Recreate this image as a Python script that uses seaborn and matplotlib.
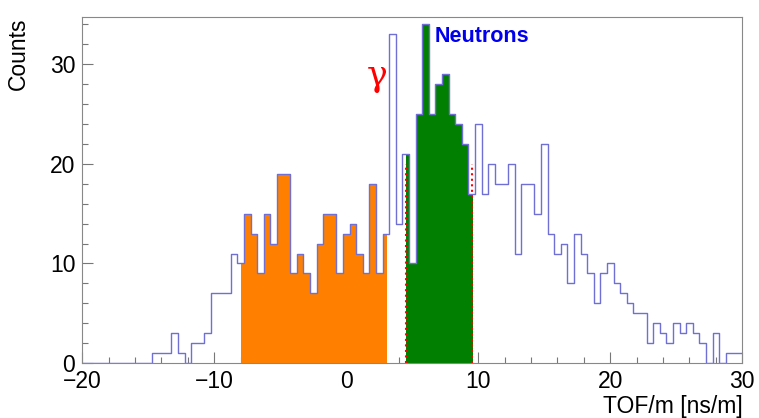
import numpy as np
import pandas as pd
import seaborn as sns
import matplotlib.pyplot as plt
from matplotlib.patches import Rectangle
from matplotlib.ticker import MultipleLocator

# TOF/m histogram, 0.5 ns/m bins centred from -20 to 30
tof = np.arange(-20, 30.01, 0.5)
counts_low = [0] * 11 + [1, 1, 1, 3, 1, 0, 2, 2, 3, 7, 7, 7]
counts_gamma = [11, 10, 15, 13, 9, 15, 12, 19, 19, 9, 11, 9, 7, 12, 15, 15, 9, 13, 14, 11, 9, 18, 9, 13]
counts_neutron = [33, 14, 21, 10, 25, 34, 25, 28, 29, 25, 24, 22, 17]
counts_tail = [24, 17, 20, 18, 18, 20, 11, 18, 18, 15, 22, 13, 11, 12, 8, 13, 11, 9, 6, 9, 10, 8, 7, 6,
               5, 5, 2, 4, 3, 2, 4, 3, 4, 3, 2, 0, 3, 0, 1, 1, 1]
counts = counts_low + counts_gamma + counts_neutron + counts_tail

# selection windows (ns/m) and the height of the cut markers
gamma_window = (-8, 3)
neutron_window = (4.5, 9.5)
cut_lines = [4.5, 9.5]
cut_height = 20

df = pd.DataFrame({'tof': tof, 'counts': counts})
hist_kw = dict(data=df, x='tof', weights='counts', binwidth=0.5,
               binrange=(-20.25, 30.25), element='step')

sns.set_style('white')
plt.rcParams['font.family'] = ['Liberation Sans', 'DejaVu Sans']
plt.rcParams['text.color'] = 'black'
plt.rcParams['axes.labelcolor'] = 'black'

fig = plt.figure(figsize=(7.59, 4.18), dpi=100)
ax = fig.add_axes([0.1084, 0.1309, 0.8696, 0.8284])

# filled windows (histogram clipped to the window)
for (lo, hi), col in [(gamma_window, '#ff8000'), (neutron_window, '#007f00')]:
    sns.histplot(fill=True, color=col, alpha=1, linewidth=0, ax=ax, **hist_kw)
    poly = ax.collections[-1]
    poly.set_clip_path(Rectangle((lo, 0), hi - lo, 100, transform=ax.transData))

ax.vlines(cut_lines, 0, cut_height, colors='red', linestyles=':', linewidth=1.5)

# outline of the full histogram
sns.histplot(fill=False, color='#6f6fd6', linewidth=1, ax=ax, **hist_kw)

ax.set_xlim(-20, 30)
ax.set_ylim(0, 34.7)
ax.set_xticks([-20, -10, 0, 10, 20, 30])
ax.set_yticks([0, 10, 20, 30])
ax.xaxis.set_minor_locator(MultipleLocator(2))
ax.yaxis.set_minor_locator(MultipleLocator(2))
ax.tick_params(which='both', direction='in', color='#777777', labelcolor='black',
               labelsize=16.5, bottom=True, left=True, top=False, right=False, pad=5)
ax.tick_params(which='major', length=8, width=0.8)
ax.tick_params(which='minor', length=4, width=0.8)
for s in ax.spines.values():
    s.set_color('#888888')
    s.set_linewidth(0.8)

ax.set_ylabel('Counts', fontsize=16.5, loc='top', color='black')
ax.yaxis.set_label_coords(-0.079, 1.0)
ax.set_xlabel('TOF/m [ns/m]', fontsize=16.5, loc='right', color='black')
ax.xaxis.set_label_coords(1.0, -0.092)

ax.text(2.35, 28.8, 'γ', color='red', fontsize=25, family=['DejaVu Serif'],
        ha='center', va='center')
ax.text(6.72, 32.7, 'Neutrons', color='#0000ee', fontweight='bold', fontsize=15.5,
        ha='left', va='center')

plt.savefig('out.png', dpi=100)
